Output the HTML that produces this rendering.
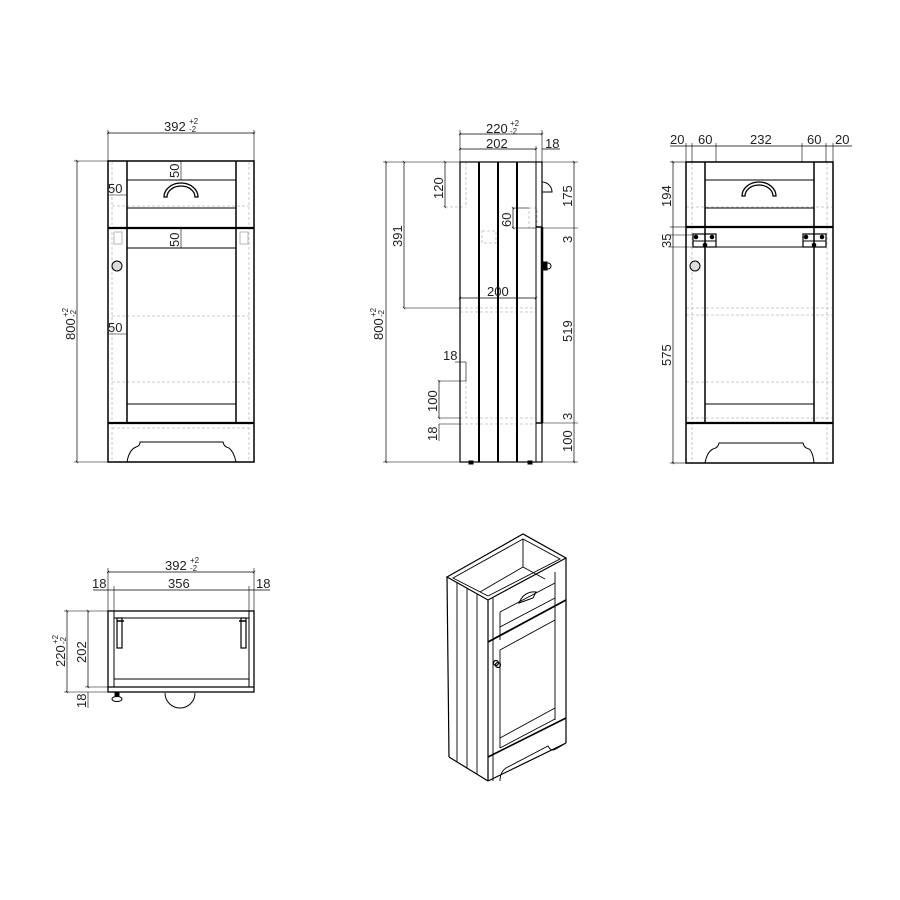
<!DOCTYPE html>
<html><head><meta charset="utf-8"><style>
html,body{margin:0;padding:0;background:#fff;}
svg{display:block;}
text{font-family:"Liberation Sans",sans-serif;font-size:13px;fill:#222;}
.s{font-size:8px;}
</style></head><body>
<svg width="900" height="900" viewBox="0 0 900 900" xmlns="http://www.w3.org/2000/svg">
<defs>
<marker id="t" viewBox="0 0 6 6" refX="3" refY="3" markerWidth="5" markerHeight="5" orient="auto"><path d="M1 5 L5 1" stroke="#000" stroke-width="1"/></marker>
</defs>
<g stroke="#000" fill="none" stroke-width="1">

<!-- ============ FRONT VIEW ============ -->
<g stroke="#bbb" stroke-dasharray="3,2" stroke-width="0.8">
<line x1="112" y1="162" x2="112" y2="462"/><line x1="249" y1="162" x2="249" y2="462"/>
<line x1="112" y1="206" x2="249" y2="206"/><line x1="112" y1="316" x2="249" y2="316"/>
<line x1="112" y1="382" x2="249" y2="382"/><line x1="112" y1="428" x2="249" y2="428"/>
</g>
<rect x="108" y="161" width="146" height="301" stroke-width="1.5"/>
<line x1="127" y1="161" x2="127" y2="423" stroke-width="1.5"/>
<line x1="236" y1="161" x2="236" y2="423" stroke-width="1.5"/>
<line x1="127" y1="180" x2="236" y2="180"/>
<line x1="127" y1="208" x2="236" y2="208"/>
<line x1="108" y1="228" x2="254" y2="228" stroke-width="2.2"/>
<line x1="127" y1="248" x2="236" y2="248"/>
<line x1="127" y1="404" x2="236" y2="404"/>
<line x1="108" y1="423" x2="254" y2="423" stroke-width="2.2"/>
<path d="M127 462 Q129 450 136 447 Q140 446 140 442 L223 442 Q224 447 229 448 Q234 452 236 462"/>
<path d="M164 197 A17 14 0 0 1 198 197 L195 197 A14 11 0 0 0 167 197 Z" stroke-width="1.3"/>
<circle cx="117" cy="266" r="5" fill="#ddd"/>
<rect x="114" y="232" width="8" height="12" stroke="#999" stroke-width="0.7"/>
<rect x="240" y="232" width="8" height="12" stroke="#999" stroke-width="0.7"/>
<!-- dims -->
<line x1="108" y1="133" x2="254" y2="133" stroke-width="0.7" marker-start="url(#t)" marker-end="url(#t)"/>
<line x1="108" y1="130" x2="108" y2="161" stroke-width="0.6"/><line x1="254" y1="130" x2="254" y2="161" stroke-width="0.6"/>
<line x1="77" y1="161" x2="77" y2="462" stroke-width="0.7" marker-start="url(#t)" marker-end="url(#t)"/>
<line x1="74" y1="161" x2="108" y2="161" stroke-width="0.6"/><line x1="74" y1="462" x2="108" y2="462" stroke-width="0.6"/>
<line x1="181" y1="161" x2="181" y2="180" stroke-width="0.6"/>
<line x1="181" y1="228" x2="181" y2="248" stroke-width="0.6"/>
<line x1="108" y1="195" x2="127" y2="195" stroke-width="0.6"/>
<line x1="108" y1="334" x2="127" y2="334" stroke-width="0.6"/>

<!-- ============ SIDE VIEW ============ -->
<g stroke="#bbb" stroke-dasharray="3,2" stroke-width="0.8">
<line x1="466" y1="162" x2="466" y2="207"/><line x1="445" y1="207" x2="466" y2="207"/>
<line x1="460" y1="308" x2="536" y2="308"/><line x1="460" y1="312" x2="536" y2="312"/>
<line x1="460" y1="418" x2="536" y2="418"/><line x1="460" y1="424" x2="536" y2="424"/>
<line x1="466" y1="381" x2="466" y2="418"/>
<rect x="482" y="231" width="14" height="12"/><rect x="529" y="208" width="8" height="20"/>
</g>
<rect x="460" y="162" width="82" height="300" stroke-width="1.2"/>
<line x1="479" y1="162" x2="479" y2="462" stroke-width="2"/>
<line x1="498" y1="162" x2="498" y2="462" stroke-width="2"/>
<line x1="517" y1="162" x2="517" y2="462" stroke-width="2"/>
<line x1="536" y1="162" x2="536" y2="462"/>
<line x1="542" y1="227" x2="542" y2="423" stroke-width="2.5"/>
<line x1="536" y1="227" x2="542" y2="227" stroke-width="1.5"/>
<line x1="536" y1="423" x2="542" y2="423" stroke-width="1.5"/>
<path d="M542 182 A10 10 0 0 1 552 192 L542 192"/>
<rect x="543" y="262" width="4" height="8" fill="#000"/><circle cx="548" cy="266" r="3"/>
<rect x="469" y="461" width="4" height="3" fill="#000"/><rect x="528" y="461" width="4" height="3" fill="#000"/>
<!-- dims -->
<line x1="460" y1="134" x2="542" y2="134" stroke-width="0.7" marker-start="url(#t)" marker-end="url(#t)"/>
<line x1="460" y1="149" x2="536" y2="149" stroke-width="0.7" marker-start="url(#t)" marker-end="url(#t)"/>
<line x1="542" y1="149" x2="560" y2="149" stroke-width="0.7"/>
<line x1="460" y1="130" x2="460" y2="162" stroke-width="0.6"/><line x1="542" y1="130" x2="542" y2="162" stroke-width="0.6"/>
<line x1="536" y1="146" x2="536" y2="162" stroke-width="0.6"/>
<line x1="386" y1="162" x2="386" y2="462" stroke-width="0.7" marker-start="url(#t)" marker-end="url(#t)"/>
<line x1="383" y1="162" x2="460" y2="162" stroke-width="0.6"/><line x1="383" y1="462" x2="460" y2="462" stroke-width="0.6"/>
<line x1="404" y1="162" x2="404" y2="308" stroke-width="0.7" marker-start="url(#t)" marker-end="url(#t)"/>
<line x1="404" y1="308" x2="460" y2="308" stroke-width="0.6"/>
<line x1="445" y1="162" x2="445" y2="207" stroke-width="0.7" marker-start="url(#t)" marker-end="url(#t)"/>
<line x1="460" y1="298" x2="536" y2="298" stroke-width="0.7" marker-start="url(#t)" marker-end="url(#t)"/>
<line x1="513" y1="208" x2="513" y2="228" stroke-width="0.7" marker-start="url(#t)" marker-end="url(#t)"/>
<line x1="513" y1="208" x2="529" y2="208" stroke-width="0.6"/><line x1="513" y1="228" x2="536" y2="228" stroke-width="0.6"/>
<line x1="574" y1="162" x2="574" y2="462" stroke-width="0.7" marker-start="url(#t)" marker-end="url(#t)"/>
<line x1="542" y1="162" x2="578" y2="162" stroke-width="0.6"/><line x1="542" y1="228" x2="578" y2="228" stroke-width="0.6"/>
<line x1="542" y1="423" x2="578" y2="423" stroke-width="0.6"/><line x1="542" y1="462" x2="578" y2="462" stroke-width="0.6"/>
<line x1="466" y1="362" x2="466" y2="381" stroke-width="0.6"/><line x1="455" y1="362" x2="466" y2="362" stroke-width="0.6"/>
<line x1="439" y1="381" x2="466" y2="381" stroke-width="0.6"/>
<line x1="439" y1="381" x2="439" y2="418" stroke-width="0.7" marker-start="url(#t)" marker-end="url(#t)"/>
<line x1="439" y1="418" x2="460" y2="418" stroke-width="0.6"/><line x1="439" y1="424" x2="460" y2="424" stroke-width="0.6"/>
<line x1="439" y1="424" x2="439" y2="441" stroke-width="0.6"/>

<!-- ============ RIGHT VIEW ============ -->
<g stroke="#bbb" stroke-dasharray="3,2" stroke-width="0.8">
<line x1="692" y1="162" x2="692" y2="463"/><line x1="827" y1="162" x2="827" y2="463"/>
<line x1="686" y1="207" x2="833" y2="207"/><line x1="686" y1="308" x2="833" y2="308"/>
<line x1="686" y1="315" x2="833" y2="315"/><line x1="686" y1="382" x2="833" y2="382"/>
<line x1="686" y1="418" x2="833" y2="418"/>
</g>
<rect x="686" y="162" width="147" height="301" stroke-width="1.5"/>
<line x1="705" y1="162" x2="705" y2="423" stroke-width="1.5"/>
<line x1="814" y1="162" x2="814" y2="423" stroke-width="1.5"/>
<line x1="705" y1="180" x2="814" y2="180"/>
<line x1="705" y1="208" x2="814" y2="208"/>
<line x1="686" y1="227" x2="833" y2="227" stroke-width="2.2"/>
<line x1="705" y1="247" x2="814" y2="247"/>
<line x1="705" y1="404" x2="814" y2="404"/>
<line x1="686" y1="423" x2="833" y2="423" stroke-width="2.2"/>
<path d="M705 463 Q707 452 713 449 Q718 448 719 443 L803 443 Q804 448 809 449 Q813 452 814 463"/>
<path d="M742 196 A17 14 0 0 1 776 196 L773 196 A14 11 0 0 0 745 196 Z" stroke-width="1.3"/>
<circle cx="695" cy="266" r="5" fill="#ddd"/>
<rect x="693" y="234" width="23" height="13" stroke-width="1.2"/><line x1="693" y1="241" x2="716" y2="241"/>
<rect x="803" y="234" width="23" height="13" stroke-width="1.2"/><line x1="803" y1="241" x2="826" y2="241"/>
<circle cx="696" cy="237" r="1.8" fill="#000"/><circle cx="712" cy="237" r="1.8" fill="#000"/><circle cx="705" cy="245" r="1.8" fill="#000"/>
<circle cx="806" cy="237" r="1.8" fill="#000"/><circle cx="822" cy="237" r="1.8" fill="#000"/><circle cx="814" cy="245" r="1.8" fill="#000"/>
<!-- dims -->
<line x1="670" y1="146" x2="852" y2="146" stroke-width="0.7"/>
<g stroke-width="0.6">
<line x1="686" y1="143" x2="686" y2="162"/><line x1="692" y1="143" x2="692" y2="162"/>
<line x1="716" y1="143" x2="716" y2="162"/><line x1="802" y1="143" x2="802" y2="162"/>
<line x1="826" y1="143" x2="826" y2="162"/><line x1="833" y1="143" x2="833" y2="162"/>
<line x1="670" y1="162" x2="686" y2="162"/><line x1="670" y1="227" x2="686" y2="227"/>
<line x1="670" y1="235" x2="693" y2="235"/><line x1="670" y1="247" x2="693" y2="247"/>
<line x1="670" y1="463" x2="686" y2="463"/>
</g>
<line x1="673" y1="162" x2="673" y2="463" stroke-width="0.7" marker-start="url(#t)" marker-end="url(#t)"/>

<!-- ============ BOTTOM VIEW ============ -->
<rect x="108" y="611" width="146" height="81" stroke-width="1.3"/>
<line x1="108" y1="687" x2="254" y2="687" stroke-width="1.3"/>
<rect x="114" y="611" width="135" height="76"/>
<line x1="114" y1="618" x2="249" y2="618"/>
<line x1="114" y1="679" x2="249" y2="679"/>
<rect x="117" y="618" width="5" height="30" stroke-width="1.2"/><line x1="117" y1="621" x2="124" y2="621" stroke-width="1.5"/>
<rect x="241" y="618" width="5" height="30" stroke-width="1.2"/><line x1="239" y1="621" x2="246" y2="621" stroke-width="1.5"/>
<path d="M165 693 A15 15 0 0 0 195 693"/>
<rect x="115" y="692" width="4" height="4" fill="#000"/><ellipse cx="117" cy="699" rx="5" ry="2.5"/>
<line x1="108" y1="572" x2="254" y2="572" stroke-width="0.7" marker-start="url(#t)" marker-end="url(#t)"/>
<line x1="93" y1="590" x2="270" y2="590" stroke-width="0.7"/>
<g stroke-width="0.6">
<line x1="108" y1="568" x2="108" y2="611"/><line x1="254" y1="568" x2="254" y2="611"/>
<line x1="114" y1="586" x2="114" y2="611"/><line x1="249" y1="586" x2="249" y2="611"/>
<line x1="64" y1="611" x2="108" y2="611"/><line x1="85" y1="687" x2="108" y2="687"/>
<line x1="64" y1="692" x2="108" y2="692"/>
</g>
<line x1="67" y1="611" x2="67" y2="692" stroke-width="0.7" marker-start="url(#t)" marker-end="url(#t)"/>
<line x1="88" y1="611" x2="88" y2="687" stroke-width="0.7" marker-start="url(#t)" marker-end="url(#t)"/>
<line x1="88" y1="692" x2="88" y2="708" stroke-width="0.6"/>

<!-- ============ ISOMETRIC ============ -->
<g stroke-width="1.2">
<!-- top rim -->
<path d="M447 577 L523 534 L566 558 L488 600 Z"/>
<path d="M453 578 L523 539 L560 559 L488 596 Z" stroke-width="0.9"/>
<line x1="523" y1="539" x2="523" y2="567" stroke-width="0.9"/>
<line x1="523" y1="567" x2="480" y2="592" stroke-width="0.9"/>
<line x1="523" y1="567" x2="545" y2="579" stroke-width="0.9"/>
<!-- left side -->
<line x1="447" y1="577" x2="449" y2="757"/>
<line x1="449" y1="757" x2="488" y2="781"/>
<line x1="488" y1="600" x2="488" y2="781"/>
<line x1="457" y1="583" x2="457" y2="762" stroke-width="0.9"/>
<line x1="467" y1="588" x2="467" y2="768" stroke-width="0.9"/>
<line x1="477" y1="594" x2="477" y2="774" stroke-width="0.9"/>
<!-- front face -->
<line x1="566" y1="558" x2="566" y2="743"/>
<line x1="488" y1="781" x2="566" y2="743"/>
<line x1="493" y1="598" x2="493" y2="781" stroke-width="0.9"/>
<line x1="500" y1="612" x2="500" y2="640" stroke-width="0.9"/>
<line x1="500" y1="650" x2="500" y2="748" stroke-width="0.9"/>
<line x1="555" y1="572" x2="555" y2="720" stroke-width="0.9"/>
<line x1="500" y1="612" x2="555" y2="583" stroke-width="0.9"/>
<line x1="500" y1="627" x2="555" y2="598" stroke-width="0.9"/>
<line x1="488" y1="642" x2="566" y2="600" stroke-width="1.8"/>
<line x1="500" y1="650" x2="555" y2="620" stroke-width="0.9"/>
<line x1="500" y1="738" x2="555" y2="708" stroke-width="0.9"/>
<line x1="500" y1="748" x2="555" y2="719" stroke-width="0.9"/>
<line x1="488" y1="757" x2="566" y2="718" stroke-width="1.6"/>
<path d="M500 781 Q500 772 506 768 L548 746 Q551 752 556 749 L566 743" stroke-width="0.9"/>
<path d="M519 603 Q524 591 536 592 L533 598 Z" stroke-width="1"/>
<circle cx="496" cy="663" r="2.5"/><circle cx="498" cy="665" r="2.5"/>
</g>
</g>

<!-- ============ TEXT ============ -->
<text x="164" y="131">392</text><text class="s" x="189" y="124">+2</text><text class="s" x="189" y="132">-2</text>
<text x="108" y="193">50</text>
<text x="108" y="332">50</text>
<text transform="translate(179,178) rotate(-90)">50</text>
<text transform="translate(179,247) rotate(-90)">50</text>
<text transform="translate(75,340) rotate(-90)">800</text>
<text class="s" transform="translate(68,317) rotate(-90)">+2</text><text class="s" transform="translate(76,317) rotate(-90)">-2</text>

<text x="486" y="133">220</text><text class="s" x="510" y="126">+2</text><text class="s" x="510" y="134">-2</text>
<text x="486" y="148">202</text>
<text x="545" y="148">18</text>
<text transform="translate(443,199) rotate(-90)">120</text>
<text transform="translate(402,247) rotate(-90)">391</text>
<text transform="translate(383,340) rotate(-90)">800</text>
<text class="s" transform="translate(376,317) rotate(-90)">+2</text><text class="s" transform="translate(384,317) rotate(-90)">-2</text>
<text x="487" y="296">200</text>
<text transform="translate(511,227) rotate(-90)">60</text>
<text transform="translate(572,207) rotate(-90)">175</text>
<text transform="translate(572,243) rotate(-90)">3</text>
<text transform="translate(572,342) rotate(-90)">519</text>
<text transform="translate(572,420) rotate(-90)">3</text>
<text transform="translate(572,452) rotate(-90)">100</text>
<text x="443" y="360">18</text>
<text transform="translate(437,412) rotate(-90)">100</text>
<text transform="translate(437,441) rotate(-90)">18</text>

<text x="670" y="144">20</text><text x="698" y="144">60</text><text x="750" y="144">232</text>
<text x="807" y="144">60</text><text x="835" y="144">20</text>
<text transform="translate(671,207) rotate(-90)">194</text>
<text transform="translate(671,248) rotate(-90)">35</text>
<text transform="translate(671,366) rotate(-90)">575</text>

<text x="165" y="570">392</text><text class="s" x="190" y="563">+2</text><text class="s" x="190" y="571">-2</text>
<text x="168" y="588">356</text>
<text x="92" y="588">18</text><text x="256" y="588">18</text>
<text transform="translate(65,667) rotate(-90)">220</text>
<text class="s" transform="translate(58,644) rotate(-90)">+2</text><text class="s" transform="translate(66,644) rotate(-90)">-2</text>
<text transform="translate(86,663) rotate(-90)">202</text>
<text transform="translate(86,708) rotate(-90)">18</text>
</svg>
</body></html>
